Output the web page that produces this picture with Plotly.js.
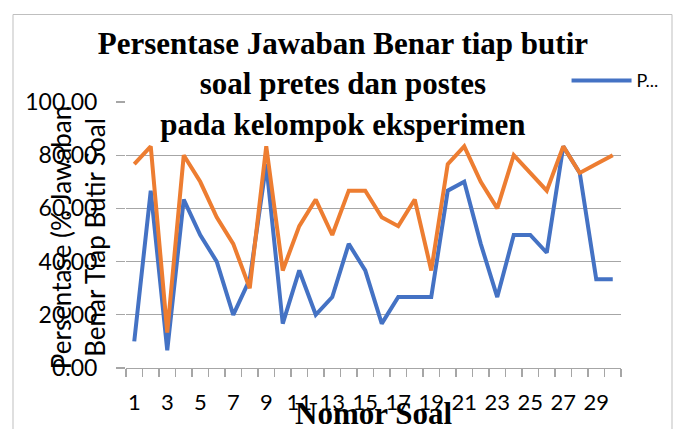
<!DOCTYPE html>
<html>
<head>
<meta charset="utf-8">
<script src="https://cdn.plot.ly/plotly-3.0.1.min.js"></script>
<style>
  html, body { margin: 0; padding: 0; background: #ffffff; }
  #chart { width: 679px; height: 429px; }
</style>
</head>
<body>
<div id="chart"></div>
<script>
// Question numbers (Nomor Soal)
const categories = [1, 2, 3, 4, 5, 6, 7, 8, 9, 10, 11, 12, 13, 14, 15, 16, 17, 18, 19, 20, 21, 22, 23, 24, 25, 26, 27, 28, 29, 30];
// Pretes (%)
const pretes = [10.00, 66.67, 6.67, 63.33, 50.00, 40.00, 20.00, 33.33, 76.67, 16.67, 36.67, 20.00, 26.67, 46.67, 36.67, 16.67, 26.67, 26.67, 26.67, 66.67, 70.00, 46.67, 26.67, 50.00, 50.00, 43.33, 83.33, 73.33, 33.33, 33.33];
// Postes (%)
const postes = [76.67, 83.33, 13.33, 80.00, 70.00, 56.67, 46.67, 30.00, 83.33, 36.67, 53.33, 63.33, 50.00, 66.67, 66.67, 56.67, 53.33, 63.33, 36.67, 76.67, 83.33, 70.00, 60.00, 80.00, 73.33, 66.67, 83.33, 73.33, 76.67, 80.00];
// Tick labels shown on x axis
const xTickLabels = [1, 3, 5, 7, 9, 11, 13, 15, 17, 19, 21, 23, 25, 27, 29];
const yTickValues = [0, 20, 40, 60, 80, 100];

const titleText = 'Persentase Jawaban Benar tiap butir<br>soal pretes dan postes<br>pada kelompok eksperimen';
const yTitleText = 'Persentase (% Jawaban<br>Benar Tiap Butir Soal';
const xTitleText = 'Nomor Soal';

const BLUE = '#4472C4';
const ORANGE = '#ED7D31';
const GRID = '#a6a6a6';
const SANS = 'Lato, "Open Sans", sans-serif';
const SERIF = '"Liberation Serif", "Times New Roman", serif';

const traces = [
  {
    type: 'scatter', mode: 'lines', name: 'P...',
    x: categories, y: pretes,
    line: { color: BLUE, width: 4 },
    showlegend: true
  },
  {
    type: 'scatter', mode: 'lines', name: 'Postes',
    x: categories, y: postes,
    line: { color: ORANGE, width: 4 },
    showlegend: false
  }
];

const layout = {
  width: 679, height: 429,
  margin: { l: 126, r: 58, t: 102, b: 61, pad: 0 },
  paper_bgcolor: '#ffffff', plot_bgcolor: '#ffffff',
  font: { family: SANS, color: '#000000' },
  title: {
    text: titleText,
    font: { family: SERIF, size: 31, weight: 'bold', color: '#000000' },
    xref: 'container', x: 0.505, xanchor: 'center',
    yref: 'container', y: 1 - 54 / 429, yanchor: 'top'
  },
  xaxis: {
    range: [0.5, 30.5],
    tickmode: 'array', tickvals: xTickLabels, ticktext: xTickLabels.map(String),
    ticks: '', showgrid: false, zeroline: false,
    showline: true, linecolor: GRID, linewidth: 1.3,
    tickfont: { family: SANS, size: 22, color: '#000000' },
    ticklabelstandoff: 14,
    minor: { tick0: 0.5, dtick: 1, ticks: 'outside', ticklen: 8, tickcolor: GRID, tickwidth: 1.3, showgrid: false },
    fixedrange: true
  },
  yaxis: {
    range: [0, 100],
    tickmode: 'array', tickvals: yTickValues,
    tickformat: '.2f',
    ticks: 'outside', ticklen: 9, tickcolor: GRID, tickwidth: 1.3,
    showgrid: true, gridcolor: GRID, gridwidth: 1.3,
    zeroline: false, showline: false,
    tickfont: { family: SANS, size: 23, color: '#000000' },
    ticklabelstandoff: 14,
    fixedrange: true
  },
  legend: {
    x: 0.89, xanchor: 'left', y: 1.08, yanchor: 'middle',
    font: { family: SANS, size: 18, color: '#000000' },
    bgcolor: 'rgba(0,0,0,0)', borderwidth: 0,
    itemwidth: 60
  },
  annotations: [
    {
      text: yTitleText, textangle: -90,
      xref: 'paper', yref: 'paper', x: -0.098, y: 0.49,
      xanchor: 'center', yanchor: 'middle', showarrow: false,
      font: { family: SANS, size: 26, color: '#000000' }
    },
    {
      text: '<b>' + xTitleText + '</b>',
      xref: 'paper', yref: 'paper', x: 0.5, y: (367.5 - 413) / 266,
      xanchor: 'center', yanchor: 'middle', showarrow: false,
      font: { family: SERIF, size: 31, color: '#000000' }
    }
  ],
  shapes: [
    {
      type: 'rect', xref: 'paper', yref: 'paper',
      x0: (13 - 126) / 495, x1: (672 - 126) / 495,
      y0: (367.5 - 440) / 266, y1: (367.5 - 14) / 266,
      line: { color: '#bfbfbf', width: 1 }, fillcolor: 'rgba(0,0,0,0)', layer: 'below'
    }
  ]
};

Plotly.newPlot('chart', traces, layout, { staticPlot: true, displayModeBar: false });
</script>
</body>
</html>
